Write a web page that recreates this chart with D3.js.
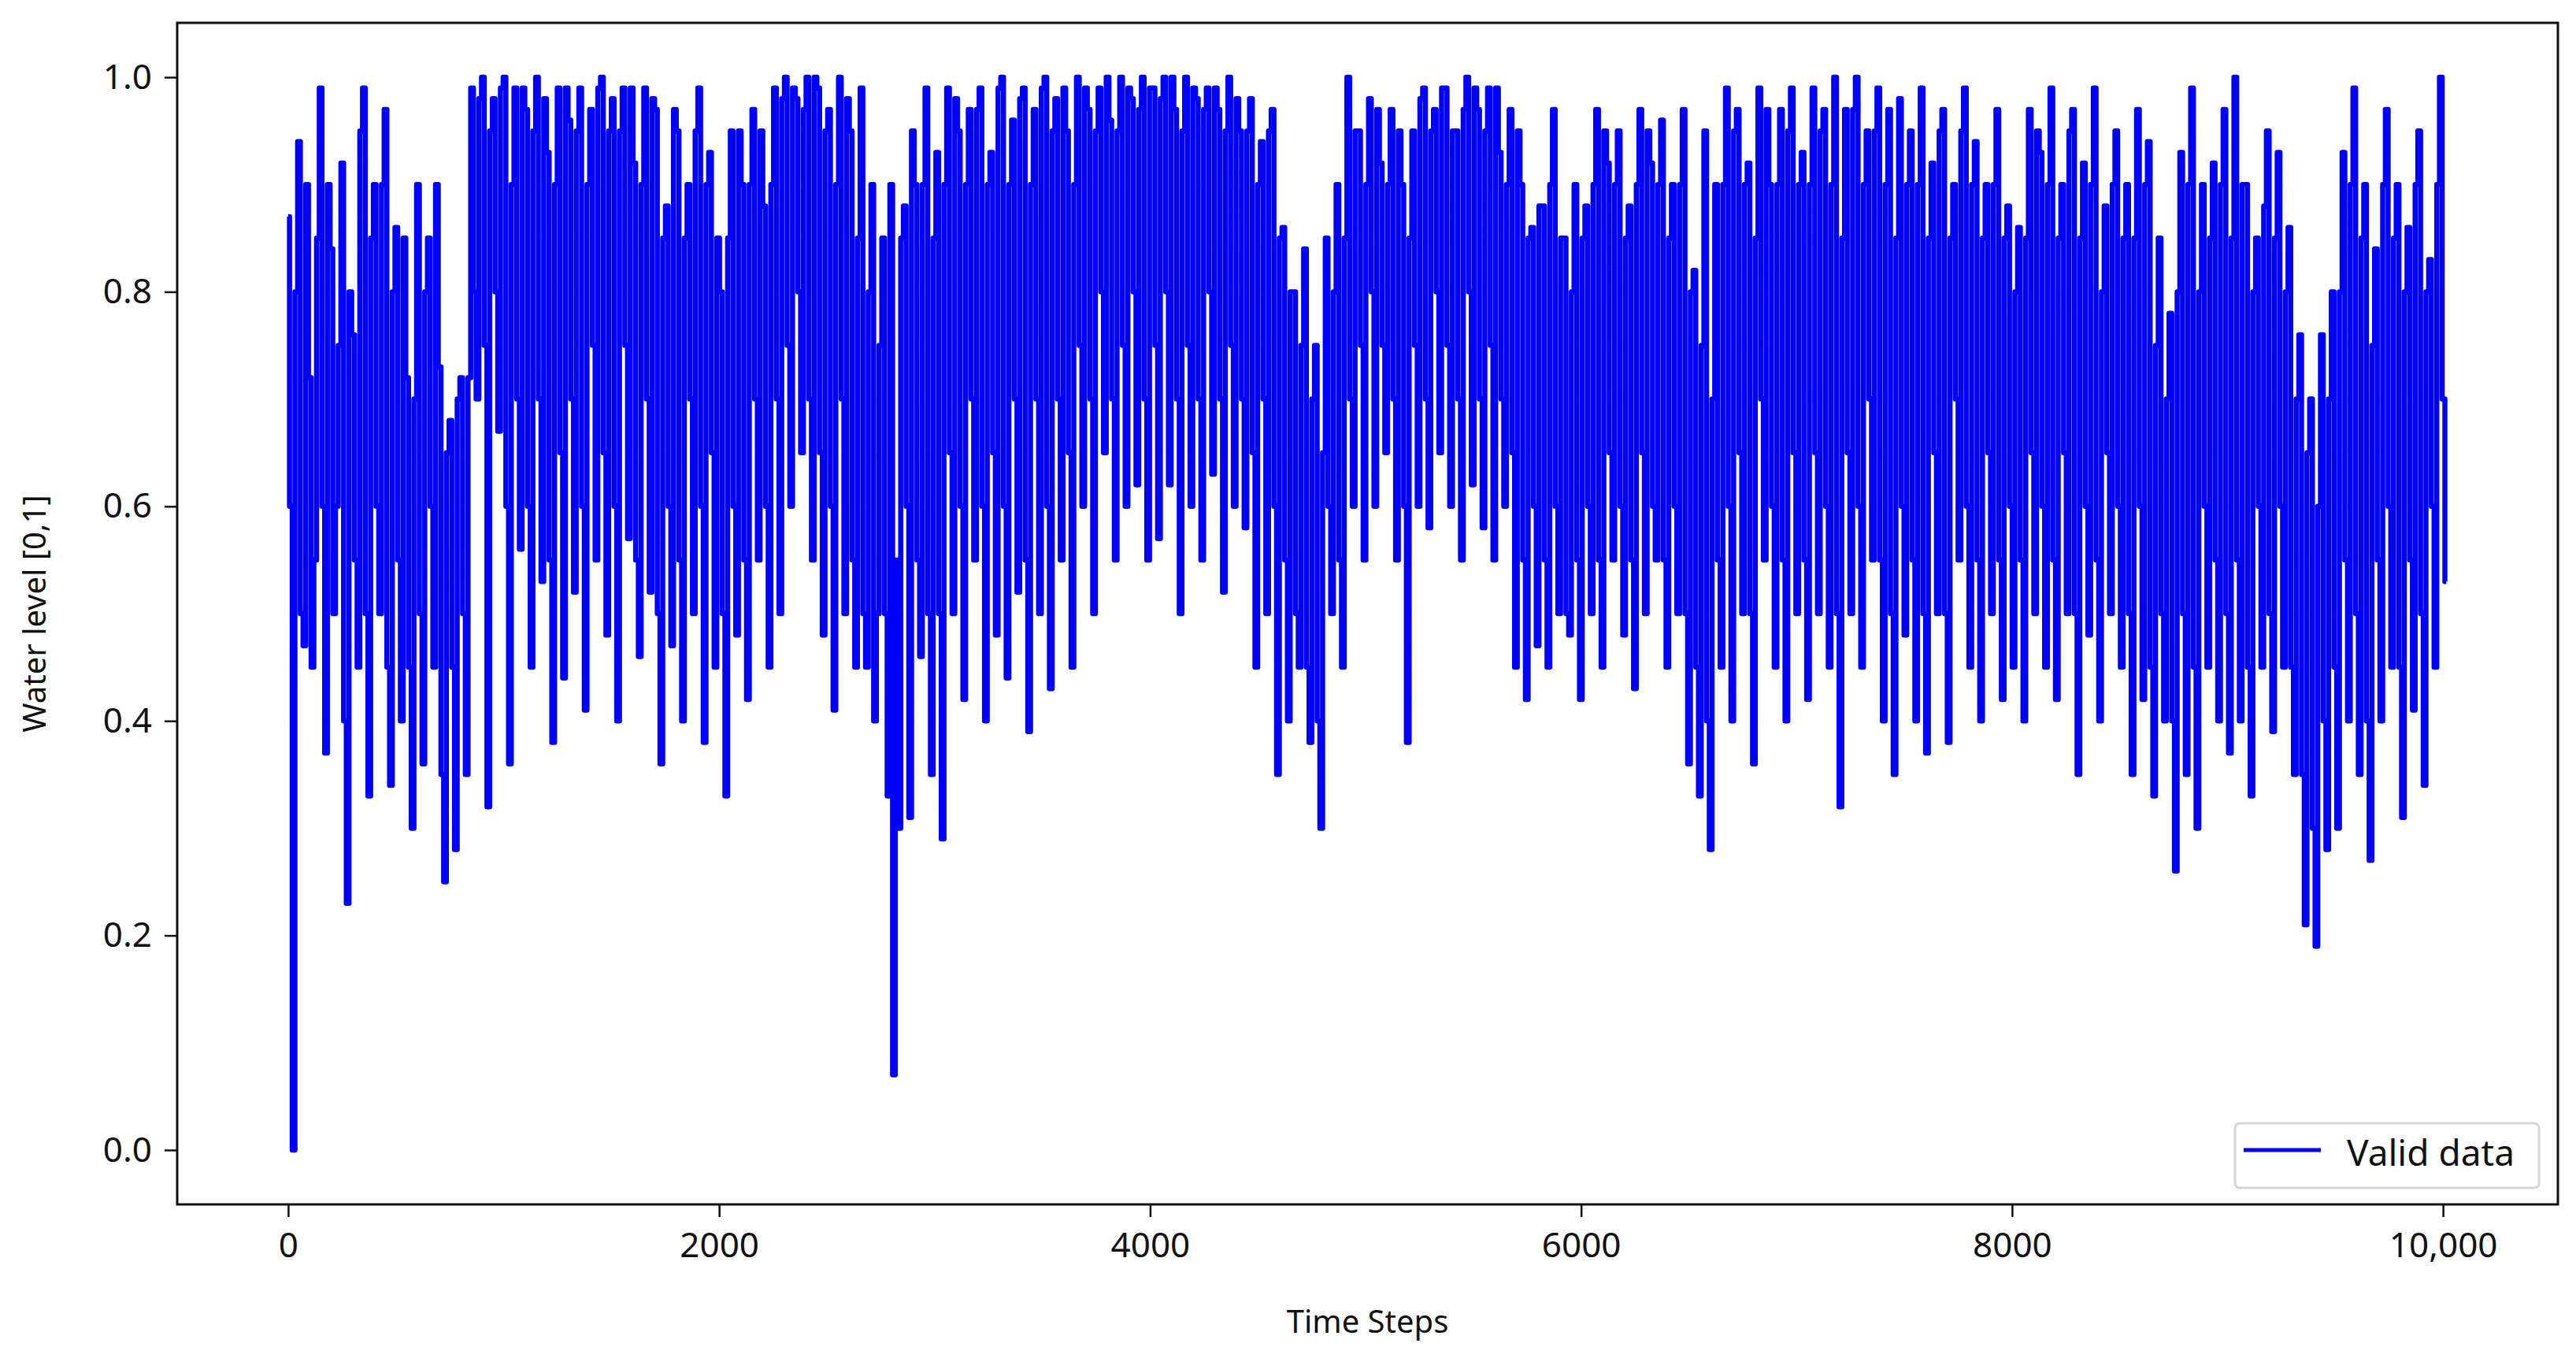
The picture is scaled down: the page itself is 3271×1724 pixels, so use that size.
<!DOCTYPE html>
<html>
<head>
<meta charset="utf-8">
<script src="https://cdn.jsdelivr.net/npm/d3@7"></script>
<style>
  body { margin: 0; background: #fff; }
  text { font-family: 'Noto Sans', sans-serif; fill: #111; }
</style>
</head>
<body>
<svg class="chart"></svg>
<script>
const width = 3271
const height = 1724

// water level: peaks/troughs (A) and the
// in-between readings (B), each every 25 steps, offset by half a step
const waterLevelA = [
  0.87,0.0,0.94,0.47,0.72,0.55,0.99,0.37,0.84,0.6,0.92,0.23,0.76,0.45,0.99,0.33,0.9,0.5,0.97,0.34,
  0.86,0.4,0.72,0.3,0.9,0.36,0.85,0.45,0.73,0.25,0.68,0.28,0.72,0.35,0.99,0.7,1.0,0.32,0.98,0.67,
  1.0,0.36,0.99,0.56,0.97,0.45,1.0,0.53,0.93,0.38,0.99,0.44,0.96,0.52,0.99,0.41,0.97,0.55,1.0,0.48,
  0.98,0.4,0.99,0.57,0.92,0.46,0.99,0.52,0.97,0.36,0.88,0.47,0.95,0.4,0.9,0.5,0.99,0.38,0.93,0.45,
  0.8,0.33,0.95,0.48,0.9,0.42,0.97,0.55,0.88,0.45,0.99,0.5,1.0,0.6,0.98,0.65,1.0,0.55,0.99,0.48,
  0.97,0.41,1.0,0.5,0.95,0.45,0.99,0.45,0.9,0.5,0.85,0.33,0.07,0.3,0.88,0.31,0.9,0.46,0.99,0.35,
  0.93,0.29,0.99,0.5,0.95,0.42,0.97,0.55,0.99,0.4,0.93,0.48,1.0,0.44,0.96,0.52,0.99,0.39,0.97,0.5,
  1.0,0.43,0.98,0.55,0.95,0.45,1.0,0.6,0.97,0.5,0.99,0.65,0.96,0.55,1.0,0.6,0.98,0.62,1.0,0.55,
  0.99,0.57,1.0,0.62,0.97,0.5,1.0,0.6,0.98,0.55,0.99,0.63,0.97,0.52,1.0,0.6,0.95,0.58,0.98,0.45,
  0.94,0.5,0.97,0.35,0.86,0.4,0.8,0.45,0.84,0.38,0.75,0.3,0.85,0.5,0.9,0.45,1.0,0.6,0.95,0.55,
  0.98,0.6,0.92,0.65,0.97,0.55,0.9,0.38,0.95,0.6,0.99,0.58,0.97,0.65,0.99,0.6,0.95,0.55,1.0,0.62,
  0.97,0.58,0.99,0.55,0.93,0.6,0.97,0.45,0.9,0.42,0.86,0.47,0.88,0.45,0.97,0.5,0.85,0.48,0.9,0.42,
  0.88,0.5,0.97,0.45,0.92,0.55,0.95,0.48,0.88,0.43,0.97,0.5,0.92,0.55,0.96,0.45,0.9,0.5,0.97,0.36,
  0.82,0.33,0.95,0.28,0.9,0.45,0.99,0.4,0.97,0.5,0.92,0.36,0.99,0.55,0.9,0.45,0.97,0.4,0.99,0.5,
  0.93,0.42,0.99,0.5,0.97,0.45,1.0,0.32,0.97,0.5,1.0,0.45,0.95,0.55,0.99,0.4,0.97,0.35,0.98,0.48,
  0.95,0.4,0.99,0.37,0.92,0.5,0.97,0.38,0.9,0.55,0.99,0.45,0.94,0.4,0.9,0.5,0.97,0.42,0.88,0.45,
  0.86,0.4,0.97,0.5,0.93,0.45,0.99,0.42,0.9,0.5,0.97,0.35,0.92,0.48,0.99,0.4,0.88,0.5,0.95,0.45,
  0.9,0.35,0.97,0.42,0.94,0.33,0.85,0.4,0.78,0.26,0.93,0.35,0.99,0.3,0.9,0.45,0.92,0.4,0.97,0.37,
  1.0,0.4,0.9,0.33,0.85,0.45,0.95,0.39,0.93,0.45,0.86,0.35,0.76,0.21,0.7,0.19,0.76,0.28,0.8,0.3,
  0.93,0.4,0.99,0.35,0.9,0.27,0.84,0.4,0.97,0.45,0.9,0.31,0.86,0.41,0.95,0.34,0.83,0.45,1.0,0.53
]
const waterLevelB = [
  0.6,0.8,0.5,0.9,0.45,0.85,0.6,0.9,0.5,0.75,0.4,0.8,0.55,0.95,0.5,0.85,0.6,0.9,0.45,0.8,
  0.55,0.85,0.45,0.7,0.5,0.8,0.6,0.9,0.35,0.65,0.45,0.7,0.5,0.72,0.8,0.98,0.75,0.95,0.8,0.99,
  0.6,0.9,0.7,0.99,0.6,0.95,0.7,0.98,0.55,0.9,0.65,0.99,0.7,0.95,0.6,0.9,0.75,0.99,0.65,0.95,
  0.6,0.95,0.75,0.99,0.55,0.9,0.7,0.98,0.5,0.85,0.6,0.97,0.55,0.85,0.7,0.95,0.6,0.9,0.65,0.85,
  0.5,0.85,0.6,0.95,0.55,0.9,0.7,0.95,0.6,0.9,0.7,0.98,0.75,0.99,0.8,0.97,0.7,1.0,0.65,0.95,
  0.6,0.9,0.7,0.98,0.55,0.85,0.5,0.8,0.4,0.75,0.5,0.9,0.55,0.85,0.6,0.95,0.55,0.9,0.5,0.85,
  0.5,0.9,0.65,0.98,0.6,0.9,0.7,0.97,0.6,0.9,0.65,0.99,0.6,0.9,0.7,0.98,0.55,0.9,0.7,0.99,
  0.6,0.95,0.7,0.99,0.65,0.9,0.75,0.99,0.7,0.95,0.8,1.0,0.7,0.95,0.75,0.99,0.8,0.97,0.7,0.99,
  0.75,0.98,0.8,1.0,0.7,0.95,0.75,0.99,0.7,0.97,0.8,0.99,0.7,0.95,0.75,0.98,0.7,0.95,0.65,0.9,
  0.7,0.95,0.6,0.85,0.55,0.8,0.5,0.75,0.45,0.7,0.4,0.65,0.6,0.8,0.55,0.85,0.7,0.95,0.75,0.9,
  0.8,0.97,0.75,0.9,0.7,0.95,0.6,0.85,0.75,0.98,0.7,0.95,0.8,0.99,0.75,0.95,0.7,0.97,0.8,0.99,
  0.7,0.95,0.75,0.99,0.7,0.9,0.65,0.95,0.55,0.85,0.6,0.88,0.55,0.9,0.6,0.85,0.5,0.8,0.55,0.85,
  0.6,0.9,0.55,0.95,0.65,0.9,0.6,0.85,0.55,0.9,0.65,0.95,0.6,0.9,0.55,0.85,0.6,0.9,0.5,0.8,
  0.45,0.75,0.4,0.7,0.55,0.9,0.6,0.95,0.65,0.9,0.5,0.85,0.7,0.97,0.6,0.9,0.55,0.95,0.65,0.9,
  0.55,0.9,0.65,0.95,0.6,0.9,0.5,0.85,0.65,0.97,0.6,0.9,0.7,0.95,0.55,0.9,0.5,0.85,0.6,0.9,
  0.55,0.9,0.5,0.85,0.65,0.95,0.5,0.85,0.7,0.95,0.6,0.9,0.55,0.85,0.65,0.9,0.55,0.85,0.6,0.8,
  0.55,0.85,0.65,0.95,0.6,0.9,0.55,0.85,0.65,0.95,0.5,0.85,0.6,0.9,0.55,0.8,0.65,0.9,0.6,0.85,
  0.5,0.85,0.6,0.9,0.45,0.75,0.5,0.7,0.4,0.8,0.5,0.9,0.45,0.8,0.6,0.85,0.55,0.9,0.5,0.85,
  0.55,0.9,0.45,0.8,0.6,0.88,0.5,0.85,0.6,0.8,0.45,0.7,0.35,0.65,0.3,0.6,0.4,0.7,0.45,0.8,
  0.55,0.9,0.5,0.85,0.4,0.75,0.55,0.9,0.6,0.85,0.45,0.8,0.55,0.9,0.5,0.8,0.6,0.9,0.7,0.85
]
const stepSize = 25.1
const xTicks = [0, 2000, 4000, 6000, 8000, 10000]
const yTicks = [0, 0.2, 0.4, 0.6, 0.8, 1.0]

// merge the two readings into one time series
const series = d3.merge(waterLevelA.map((a, i) => [
    { step: i * stepSize, level: a },
    { step: (i + 0.5) * stepSize, level: waterLevelB[i] }
])).slice(0, -1)

const plotLeft = 225, plotRight = 3248, plotTop = 29, plotBottom = 1529

const svg = d3.select('.chart').attr('width', width).attr('height', height)

const x = d3.scaleLinear().domain([-515, 10533]).range([plotLeft, plotRight])
const y = d3.scaleLinear().domain([-0.0507, 1.0507]).range([plotBottom, plotTop])

// at this density the trace reads as vertical strokes
const line = d3.line()
    .x(d => x(d.step))
    .y(d => y(d.level))
    .curve(d3.curveStep)

svg.append('path')
    .datum(series)
    .attr('fill', 'none')
    .attr('stroke', '#0000ff')
    .attr('stroke-width', 6.5)
    .attr('stroke-linejoin', 'round')
    .attr('d', line)

// ticks
const xAxis = svg.append('g').attr('transform', `translate(0,${plotBottom})`)
    .call(d3.axisBottom(x).tickValues(xTicks).tickSize(16).tickPadding(20)
        .tickFormat(d => d >= 10000 ? d3.format(',')(d) : d))
const yAxis = svg.append('g').attr('transform', `translate(${plotLeft},0)`)
    .call(d3.axisLeft(y).tickValues(yTicks).tickSize(16).tickPadding(16)
        .tickFormat(d3.format('.1f')))

;[xAxis, yAxis].forEach(a => {
    a.select('.domain').remove()
    a.selectAll('line').attr('stroke', '#111').attr('stroke-width', 2.5)
    a.selectAll('text').style('font-size', '44px').style('font-family', "'Noto Sans', sans-serif").attr('fill', '#111')
})

// frame
svg.append('rect')
    .attr('x', plotLeft).attr('y', plotTop)
    .attr('width', plotRight - plotLeft).attr('height', plotBottom - plotTop)
    .attr('fill', 'none').attr('stroke', '#111').attr('stroke-width', 3)

svg.append('text')
    .text('Time Steps')
    .attr('x', (plotLeft + plotRight) / 2).attr('y', 1692)
    .attr('text-anchor', 'middle')
    .style('font-size', '40px')

svg.append('text')
    .text('Water level [0,1]')
    .attr('transform', `translate(58,${(plotTop + plotBottom) / 2}) rotate(-90)`)
    .attr('text-anchor', 'middle')
    .style('font-size', '40px')

// legend
const legend = svg.append('g')
legend.append('rect')
    .attr('x', 2838).attr('y', 1426).attr('width', 386).attr('height', 82)
    .attr('rx', 6).attr('fill', '#fff').attr('stroke', '#d6d6d6').attr('stroke-width', 3)
legend.append('line')
    .attr('x1', 2849).attr('x2', 2947).attr('y1', 1460).attr('y2', 1460)
    .attr('stroke', '#0000ff').attr('stroke-width', 5)
legend.append('text')
    .text('Valid data')
    .attr('x', 2980).attr('y', 1480)
    .style('font-size', '46px').attr('fill', '#222')
</script>
</body>
</html>
